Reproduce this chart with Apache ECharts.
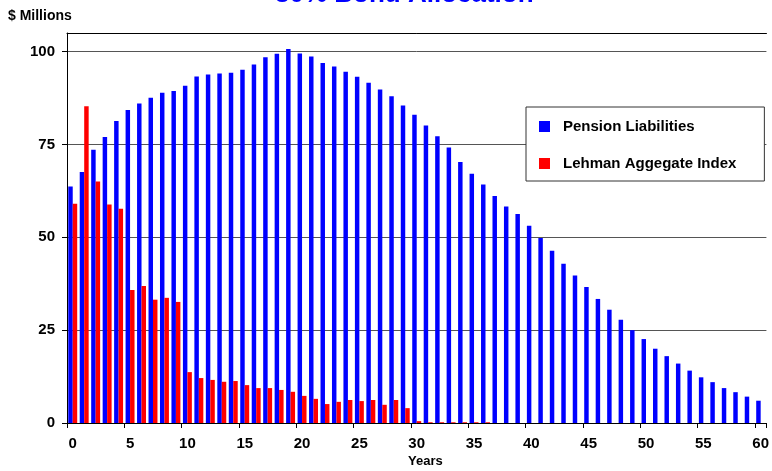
<!DOCTYPE html>
<html>
<head>
<meta charset="utf-8">
<script src="https://cdn.jsdelivr.net/npm/echarts@6/dist/echarts.min.js"></script>
<style>
  html, body { margin: 0; padding: 0; background: #fff; }
  #chart { width: 772px; height: 471px; }
</style>
</head>
<body>
<div id="chart"></div>
<script>
// years 0..60
const years = []
for (let i = 0; i <= 60; i++) years.push(String(i))

// $ millions
const pensionLiabilities = [
  63.7, 67.6, 73.6, 77.0, 81.3, 84.3, 86.0, 87.6, 88.9, 89.4,
  90.8, 93.3, 93.8, 94.1, 94.3, 95.1, 96.5, 98.5, 99.4, 100.7,
  99.5, 98.7, 96.9, 96.0, 94.6, 93.2, 91.6, 89.8, 88.0, 85.5,
  83.0, 80.1, 77.2, 74.2, 70.3, 67.1, 64.2, 61.1, 58.3, 56.3,
  53.1, 49.8, 46.4, 42.9, 39.7, 36.6, 33.4, 30.5, 27.8, 25.0,
  22.6, 20.0, 18.0, 16.0, 14.1, 12.3, 11.0, 9.4, 8.3, 7.1,
  6.0
]
const lehmanAggregate = [
  59.0, 85.3, 65.0, 58.8, 57.7, 35.8, 36.9, 33.2, 33.7, 32.6,
  13.7, 12.1, 11.6, 11.1, 11.3, 10.2, 9.4, 9.4, 8.9, 8.4,
  7.3, 6.5, 5.1, 5.7, 6.2, 5.9, 6.2, 4.9, 6.2, 4.0,
  0.5, 0.2, 0.2, 0.2, 0.2, 0.2, 0.2, 0, 0, 0,
  0, 0, 0, 0, 0, 0, 0, 0, 0, 0,
  0, 0, 0, 0, 0, 0, 0, 0, 0, 0,
  0
]
const yTicks = [0, 25, 50, 75, 100]

const font = 'Liberation Sans, Arial, sans-serif'
const myChart = echarts.init(document.getElementById('chart'), null, { renderer: 'canvas' })

const option = {
  animation: false,
  backgroundColor: '#fff',
  title: [
    {
      // only the lower edge of the title is in the frame
      text: '30% Bond Allocation',
      left: 275,
      top: -18,
      padding: 0,
      textStyle: { color: '#0000ff', fontWeight: 'bold', fontSize: 26, fontFamily: font }
    },
    {
      text: '$ Millions',
      left: 8,
      top: 9,
      padding: 0,
      textStyle: { color: '#000', fontWeight: 'bold', fontSize: 14, fontFamily: font }
    },
    {
      text: 'Years',
      left: 408,
      top: 455,
      padding: 0,
      textStyle: { color: '#000', fontWeight: 'bold', fontSize: 13, fontFamily: font }
    }
  ],
  legend: {
    orient: 'vertical',
    left: 526,
    top: 107,
    padding: [12, 28, 10, 13],
    itemGap: 22,
    itemWidth: 11,
    itemHeight: 11,
    backgroundColor: '#fff',
    borderColor: '#333',
    borderWidth: 1,
    icon: 'rect',
    textStyle: { color: '#000', fontWeight: 'bold', fontSize: 15, fontFamily: font, padding: [0, 0, 0, 8] },
    data: ['Pension Liabilities', 'Lehman Aggegate Index']
  },
  grid: {
    left: 67,
    top: 33,
    width: 701.5,
    bottom: 48,
    containLabel: false
  },
  xAxis: [
    {
      type: 'category',
      data: years,
      boundaryGap: true,
      axisLine: { lineStyle: { color: '#000', width: 1 } },
      axisTick: { show: true, interval: 4, length: 5, lineStyle: { color: '#000' } },
      axisLabel: {
        interval: 4,
        margin: 13,
        color: '#000',
        fontWeight: 'bold',
        fontSize: 15,
        fontFamily: font
      },
      splitLine: { show: false }
    },
    {
      type: 'category',
      data: years,
      position: 'top',
      axisLine: { lineStyle: { color: '#000', width: 1 } },
      axisTick: { show: false },
      axisLabel: { show: false }
    }
  ],
  yAxis: {
    type: 'value',
    min: 0,
    max: 105,
    interval: 25,
    axisLine: { show: true, lineStyle: { color: '#000', width: 1 } },
    axisTick: { show: true, length: 5, lineStyle: { color: '#000' } },
    axisLabel: {
      margin: 12,
      color: '#000',
      fontWeight: 'bold',
      fontSize: 15,
      fontFamily: font,
      showMaxLabel: false,
      formatter: function (v) {
        return yTicks.indexOf(v) >= 0 ? String(v) : ''
      }
    },
    splitLine: { show: true, lineStyle: { color: '#555', width: 1 } }
  },
  series: [
    {
      name: 'Pension Liabilities',
      type: 'bar',
      data: pensionLiabilities,
      barGap: '0%',
      barCategoryGap: '22%',
      itemStyle: { color: '#0000ff' }
    },
    {
      name: 'Lehman Aggegate Index',
      type: 'bar',
      data: lehmanAggregate,
      barGap: '0%',
      barCategoryGap: '22%',
      itemStyle: { color: '#ff0000' }
    }
  ]
}
myChart.setOption(option)
</script>
</body>
</html>
